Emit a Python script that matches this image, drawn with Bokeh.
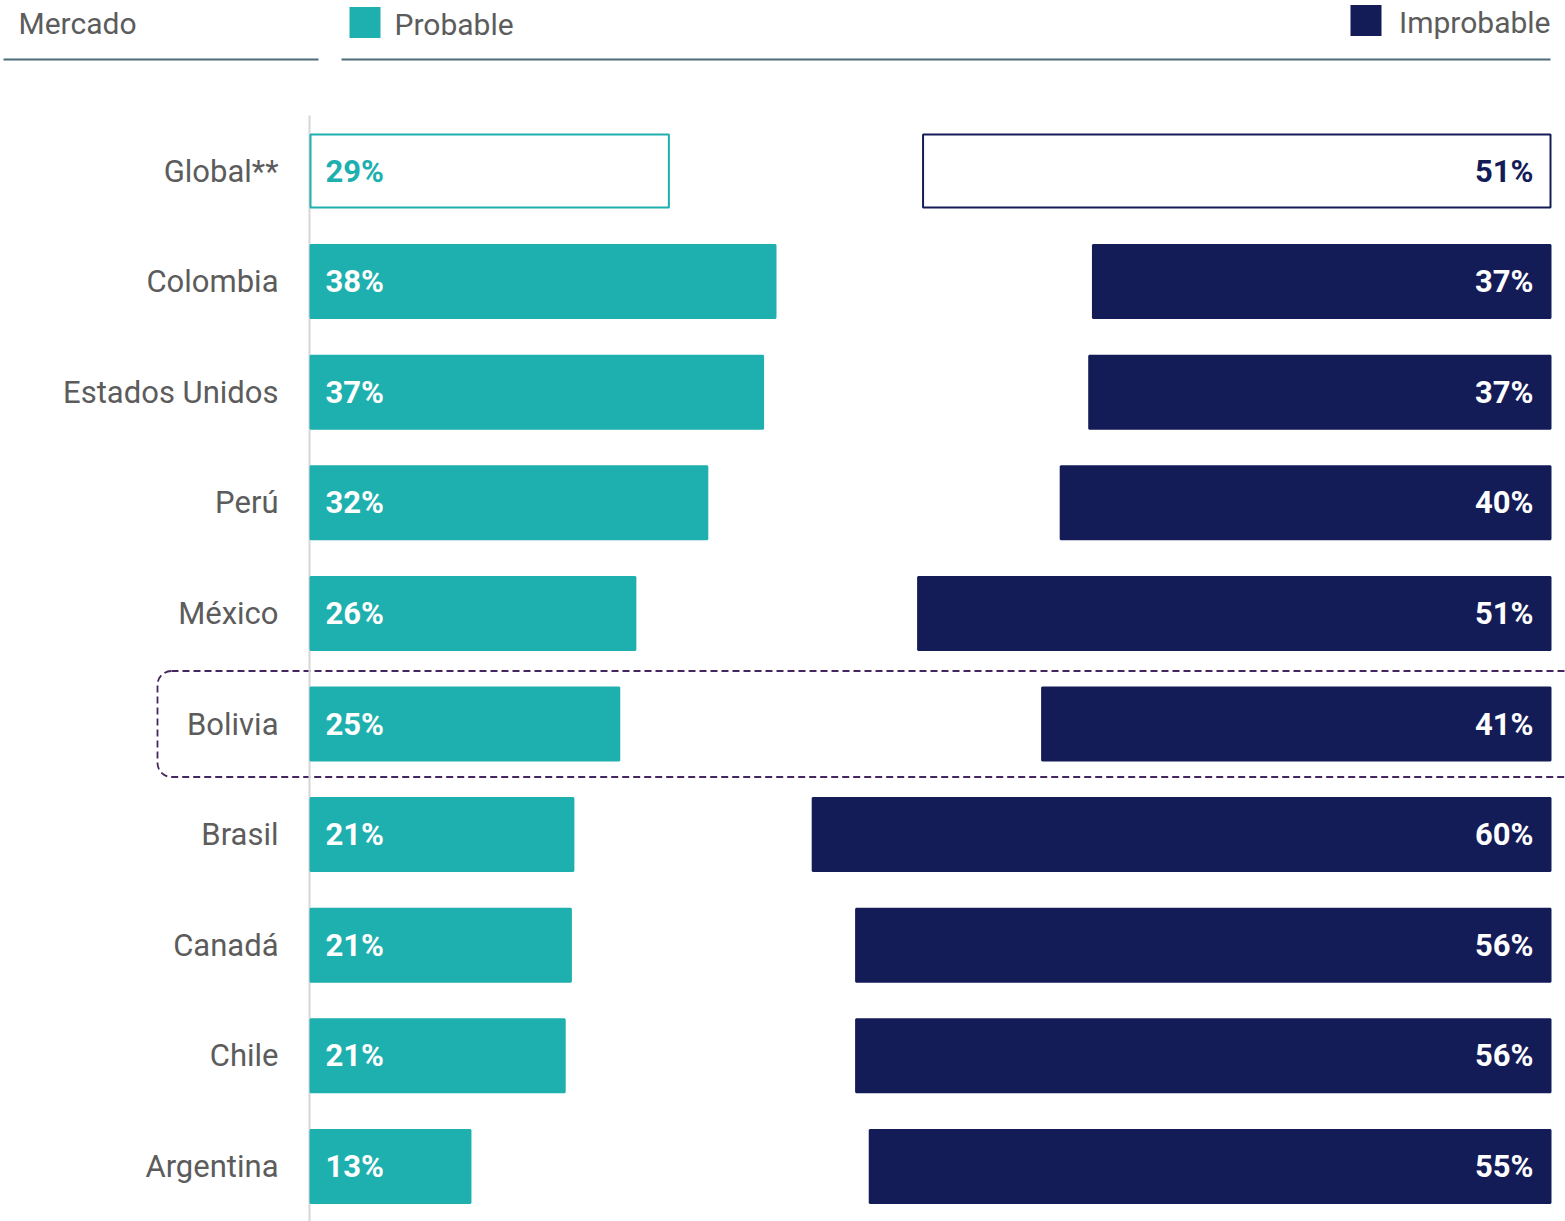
from bokeh.plotting import figure
from bokeh.models import Range1d, ColumnDataSource
from bokeh.embed import file_html
from bokeh.resources import INLINE
from bokeh.core.properties import value

# ---- data ----
markets = ["Global**", "Colombia", "Estados Unidos", "Perú", "México",
           "Bolivia", "Brasil", "Canadá", "Chile", "Argentina"]
probable = [28.9, 37.5, 36.5, 32.0, 26.2, 24.9, 21.2, 21.0, 20.5, 12.9]
improbable = [50.6, 36.9, 37.2, 39.5, 51.0, 41.0, 59.5, 56.0, 56.0, 54.9]
probable_labels = ["29%", "38%", "37%", "32%", "26%", "25%", "21%", "21%", "21%", "13%"]
improbable_labels = ["51%", "37%", "37%", "40%", "51%", "41%", "60%", "56%", "56%", "55%"]
header_labels = ["Mercado", "Probable", "Improbable"]
highlight = "Bolivia"

TEAL = "#1eb0ae"
NAVY = "#141c58"
GRAY = "#5c5c5c"
RULE = "#4e6b7a"
FONT = "Roboto"

W, H = 1565, 1221
PX_PER_PCT = 12.4
ROW_PX = 110.6
X0 = 310        # pixel of 0% in figure
Y0 = 170.5      # pixel of first row centre in figure


def dx(px):  # reference pixel x -> data x
    return (px - X0) / PX_PER_PCT


def dy(py):  # reference pixel y -> data y (row units)
    return (py - Y0) / ROW_PX


p = figure(width=W, height=H, output_backend="svg", toolbar_location=None,
           x_range=Range1d(-X0 / PX_PER_PCT, (W - X0) / PX_PER_PCT),
           y_range=Range1d((H - Y0) / ROW_PX, -Y0 / ROW_PX),
           min_border=0, outline_line_color=None)
p.axis.visible = False
p.grid.visible = False
p.background_fill_color = "white"
p.border_fill_color = "white"

rows = list(range(len(markets)))
is_global = [m.startswith("Global") for m in markets]

# highlight box (dashed, rounded)
hi = markets.index(highlight)
hl_left, hl_right = dx(157), dx(1585)
p.rect(x=[(hl_left + hl_right) / 2], y=[hi], width=[hl_right - hl_left],
       height=[106 / ROW_PX], fill_color=None, line_color="#45265f",
       line_width=1.8, line_dash="7 4", border_radius=14)

# vertical axis line
p.segment(x0=[dx(309)], x1=[dx(309)], y0=[dy(115)], y1=[dy(1230)],
          line_color="#d6d6d6", line_width=2)

bar_h = 73 / ROW_PX
src = ColumnDataSource(dict(
    y=rows,
    p=probable, i=improbable,
    il=[100 - v for v in improbable],
    pfill=["white" if g else TEAL for g in is_global],
    ifill=["white" if g else NAVY for g in is_global],
    ptext_c=[TEAL if g else "white" for g in is_global],
    itext_c=[NAVY if g else "white" for g in is_global],
    plab=probable_labels, ilab=improbable_labels, mk=markets,
))

p.hbar(y="y", left=0, right="p", height=bar_h, fill_color="pfill",
       line_color=TEAL, line_width=2, source=src)
p.hbar(y="y", left="il", right=100, height=bar_h, fill_color="ifill",
       line_color=NAVY, line_width=2, source=src)

p.text(x=dx(325), y="y", text="plab", text_color="ptext_c",
       text_font=value(FONT), text_font_style="bold", text_font_size="31px",
       text_align="left", text_baseline="middle", source=src)
p.text(x=dx(1533), y="y", text="ilab", text_color="itext_c",
       text_font=value(FONT), text_font_style="bold", text_font_size="31px",
       text_align="right", text_baseline="middle", source=src)
p.text(x=dx(278), y="y", text="mk", text_color=GRAY,
       text_font=value(FONT), text_font_size="31px",
       text_align="right", text_baseline="middle", source=src)

# header
p.text(x=[dx(18)], y=[dy(23)], text=[header_labels[0]], text_color=GRAY,
       text_font=value(FONT), text_font_size="30px",
       text_align="left", text_baseline="middle")
p.rect(x=[dx(364.5)], y=[dy(22)], width=[31 / PX_PER_PCT], height=[31 / ROW_PX],
       fill_color=TEAL, line_color=None)
p.text(x=[dx(394)], y=[dy(24)], text=[header_labels[1]], text_color=GRAY,
       text_font=value(FONT), text_font_size="30px",
       text_align="left", text_baseline="middle")
p.rect(x=[dx(1365.5)], y=[dy(20)], width=[31 / PX_PER_PCT], height=[31 / ROW_PX],
       fill_color=NAVY, line_color=None)
p.text(x=[dx(1550)], y=[dy(22)], text=[header_labels[2]], text_color=GRAY,
       text_font=value(FONT), text_font_size="30px",
       text_align="right", text_baseline="middle")
p.segment(x0=[dx(3), dx(341)], x1=[dx(318), dx(1550)], y0=[dy(59), dy(59)],
          y1=[dy(59), dy(59)], line_color=RULE, line_width=2)

open("out.html", "w").write(file_html(p, INLINE))
